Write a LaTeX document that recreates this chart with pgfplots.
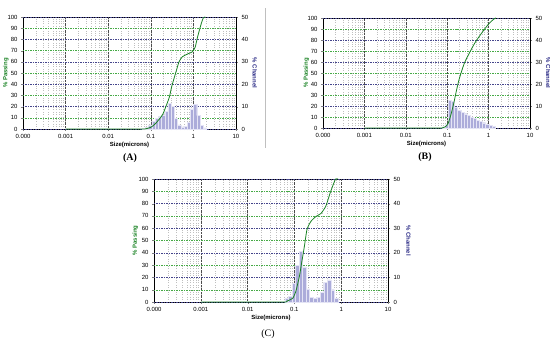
\documentclass[border=0pt]{standalone}
\usepackage{pgfplots}
\pgfplotsset{compat=1.18}
\usepackage{fontspec}
\setmainfont{Liberation Sans}
\newfontfamily\serifb{Liberation Serif}
\definecolor{cgreen}{RGB}{25,130,35}
\definecolor{cblue}{RGB}{45,45,135}
\definecolor{gridgreen}{RGB}{70,170,70}
\definecolor{gridblue}{RGB}{70,70,140}
\definecolor{barfill}{RGB}{172,172,218}
\definecolor{baredge}{RGB}{228,228,245}
\pgfkeys{/pgf/number format/assume math mode=true}
\pgfplotsset{
 leftax/.style={scale only axis, xmin=1e-4, xmax=10,
   xtick={1e-4,1e-3,1e-2,1e-1,1,10},
   xticklabels={0.000,0.001,0.01,0.1,1,10},
   tick label style={font=\fontsize{6}{7}\selectfont},
   tick align=outside, major tick length=2pt, minor tick length=1.2pt,
   axis line style={black, line width=0.5pt},
   ymin=0, ymax=100, ytick={0,10,...,100},
   xmajorgrids, xminorgrids,
   major grid style={densely dotted, black!70, line width=0.4pt},
   minor grid style={dotted, black!25, line width=0.4pt},
   extra y ticks={10,30,50,70,90}, extra y tick labels={},
   extra y tick style={ymajorgrids=true, major grid style={gridgreen, dash pattern=on 1.5pt off 1pt, line width=0.4pt}},
   xlabel={\textbf{Size(microns)}}, ylabel={\textbf{\% Passing}},
   label style={font=\fontsize{6}{7}\selectfont},
   ylabel style={cgreen, at={(axis description cs:-0.08,0.5)}, anchor=center},
   xlabel style={yshift=3pt},
   ytick pos=left, xtick pos=bottom,
 },
 rightax/.style={scale only axis, xmin=1e-4, xmax=10,
   tick label style={font=\fontsize{6}{7}\selectfont},
   tick align=outside, major tick length=2pt,
   axis line style={black, line width=0.5pt},
   ymin=0, ymax=50, ytick={0,10,...,50},
   axis x line=none, axis y line*=right,
   ymajorgrids, major grid style={gridblue, dash pattern=on 1.5pt off 1pt, line width=0.4pt},
   ylabel={\textbf{\% Channel}},
   ylabel style={cblue, at={(axis description cs:1.088,0.5)}, anchor=center, rotate=180, font=\fontsize{6}{7}\selectfont},
 },
 curveax/.style={scale only axis, xmin=1e-4, xmax=10, ymin=0, ymax=100, hide axis, clip=false},
}
\pgfplotstableread{
x y
0.0629 0.3
0.0748 0.8
0.0889 1.8
0.1057 3.3
0.1257 4.8
0.1495 5.5
0.1778 6.3
0.2115 7.8
0.2515 11.5
0.2991 10
0.3557 4.8
0.4230 1.8
0.5030 1.0
0.5982 1.3
0.7114 3.0
0.8460 9.0
1.0061 11.0
1.1965 6.0
1.4229 1.5
1.6921 0.5
2.0122 0
}\barsA
\pgfplotstableread{
x y
0.001 0
0.05 0
0.072 0
0.1 1.5
0.13 5
0.19 13
0.27 28
0.31 38
0.39 51
0.46 60
0.55 64.5
0.73 67
0.95 69
1.1 73
1.25 82
1.5 93
1.7 99
1.9 100
}\cumA
\pgfplotstableread{
x y
0.0748 0.5
0.0889 1.8
0.1057 12.5
0.1257 12.0
0.1495 9.5
0.1778 8.0
0.2115 7.2
0.2515 6.5
0.2991 5.8
0.3557 5.0
0.4230 4.3
0.5030 3.6
0.5982 3.0
0.7114 2.4
0.8460 1.8
1.0061 1.3
1.1965 0.8
1.4229 0
}\barsB
\pgfplotstableread{
x y
0.001 0
0.05 0
0.075 0
0.089 1
0.105 4
0.125 13
0.145 23
0.165 33
0.19 43
0.22 51
0.26 59
0.32 66
0.46 77
0.67 86
0.97 94
1.2 97.5
1.4 99.5
1.5 100
}\cumB
\pgfplotstableread{
x y
0.0629 1.4
0.0748 2.3
0.0889 7.5
0.1057 15
0.1257 20.5
0.1495 14.3
0.1778 5.3
0.2115 2.0
0.2515 1.4
0.2991 2.0
0.3557 4.0
0.4230 8.0
0.5030 9.0
0.5982 5.0
0.7114 1.4
0.8460 0
}\barsC
\pgfplotstableread{
x y
0.001 0
0.05 0
0.066 0
0.072 1
0.092 3
0.108 9
0.128 21
0.143 32
0.163 45
0.186 59
0.226 65.6
0.29 69.6
0.37 72
0.47 78
0.58 88.6
0.70 97
0.76 100
0.86 100
}\cumC
\begin{document}
\begin{tikzpicture}
\path[use as bounding box] (0,0) rectangle (550bp,-343bp);
% Panel A
\begin{semilogxaxis}[leftax, at={(23bp,-129bp)}, anchor=south west, width=213bp, height=112bp]
\end{semilogxaxis}
\begin{semilogxaxis}[rightax, at={(23bp,-129bp)}, anchor=south west, width=213bp, height=112bp]
\addplot[ybar interval, fill=barfill, draw=baredge, line width=0.3pt] table {\barsA};
\end{semilogxaxis}
\begin{semilogxaxis}[curveax, at={(23bp,-129bp)}, anchor=south west, width=213bp, height=112bp]
\addplot[cgreen, line width=0.8pt, smooth, tension=0.35, mark=none] table {\cumA};
\end{semilogxaxis}
% Panel B
\begin{semilogxaxis}[leftax, at={(323bp,-128bp)}, anchor=south west, width=207bp, height=110bp]
\end{semilogxaxis}
\begin{semilogxaxis}[rightax, at={(323bp,-128bp)}, anchor=south west, width=207bp, height=110bp]
\addplot[ybar interval, fill=barfill, draw=baredge, line width=0.3pt] table {\barsB};
\end{semilogxaxis}
\begin{semilogxaxis}[curveax, at={(323bp,-128bp)}, anchor=south west, width=207bp, height=110bp]
\addplot[cgreen, line width=0.8pt, smooth, tension=0.35, mark=none] table {\cumB};
\end{semilogxaxis}
% Panel C
\begin{semilogxaxis}[leftax, at={(154bp,-302bp)}, anchor=south west, width=234bp, height=123bp]
\end{semilogxaxis}
\begin{semilogxaxis}[rightax, at={(154bp,-302bp)}, anchor=south west, width=234bp, height=123bp]
\addplot[ybar interval, fill=barfill, draw=baredge, line width=0.3pt] table {\barsC};
\end{semilogxaxis}
\begin{semilogxaxis}[curveax, at={(154bp,-302bp)}, anchor=south west, width=234bp, height=123bp]
\addplot[cgreen, line width=0.8pt, smooth, tension=0.35, mark=none] table {\cumC};
\end{semilogxaxis}
\draw[black!25, line width=0.6pt] (265bp,-8bp) -- (265bp,-148bp);
\node[font=\serifb\bfseries\fontsize{10}{12}\selectfont] at (130bp,-158bp) {(A)};
\node[font=\serifb\bfseries\fontsize{10}{12}\selectfont] at (425bp,-157bp) {(B)};
\node[font=\serifb\fontsize{10}{12}\selectfont] at (268bp,-334bp) {(C)};
\end{tikzpicture}
\end{document}
